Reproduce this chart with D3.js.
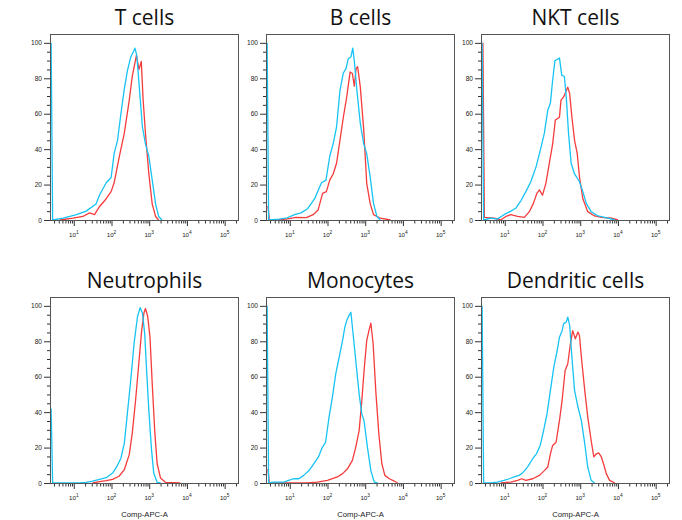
<!DOCTYPE html>
<html><head><meta charset="utf-8">
<script src="https://cdn.jsdelivr.net/npm/d3@7"></script>
<style>body{margin:0;background:#fff} svg{display:block}</style>
</head><body><svg id="c" width="682" height="520"></svg>
<script>
// Titles and axis labels
const titles = ["T cells", "B cells", "NKT cells", "Neutrophils", "Monocytes", "Dendritic cells"];
const xAxisLabel = "Comp-APC-A";
const yTickValues = [0, 20, 40, 60, 80, 100];
const xDecades = [1, 2, 3, 4, 5];

// Series: X = log10(Comp-APC-A intensity), Y = % of max
const tCellsBlueX = [0.40,0.44,0.72,1.07,1.33,1.59,1.68,1.86,1.99,2.07,2.16,2.25,2.34,2.42,2.51,2.58,2.62,2.67,2.73,2.82,2.90,2.99,3.08,3.17,3.25,3.34];
const tCellsBlueY = [100,0,1,3,5,9,14,21,24,37.5,45,60,74,84,92,95,97,93,77,52.5,43,36,22.5,9,2,0];
const tCellsRedX = [0.63,0.98,1.24,1.42,1.55,1.68,1.86,1.99,2.07,2.21,2.34,2.47,2.55,2.66,2.73,2.79,2.84,2.90,2.99,3.08,3.17,3.25];
const tCellsRedY = [0,1,2,4,3,7.5,12,16,21,36,49,67.5,81,93,85,89.5,67.5,49,26,9,2,0];

const bCellsBlueX = [0.40,0.44,0.72,0.90,1.13,1.30,1.48,1.66,1.84,1.96,2.06,2.15,2.24,2.33,2.42,2.49,2.55,2.62,2.67,2.71,2.78,2.87,2.96,3.04,3.13,3.22,3.31,3.40];
const bCellsBlueY = [100,0,0.5,1,3,4,6.5,12,21,22.5,36,43,52.5,73,83,85.5,91,92,97,90,73,54.5,43,37.5,24.5,9.4,2,0];
const bCellsRedX = [0.42,0.46,0.63,0.90,1.17,1.44,1.62,1.75,1.87,1.97,2.06,2.15,2.24,2.33,2.42,2.51,2.60,2.66,2.71,2.76,2.80,2.87,2.96,3.04,3.13,3.22,3.40,3.67];
const bCellsRedY = [8,0,0,0.5,1.5,1.3,3,5.6,15,16,22.5,26,32,45,58,69.5,83.6,82.7,75.6,85.5,86.5,75,51,20.7,9.4,3,1,0];

const nktBlueX = [0.40,0.44,0.63,0.80,0.98,1.16,1.29,1.43,1.56,1.69,1.83,1.96,2.05,2.14,2.21,2.27,2.33,2.39,2.45,2.51,2.58,2.63,2.69,2.76,2.85,2.98,3.07,3.16,3.29,3.47,3.74,3.92];
const nktBlueY = [100,0,1,0.5,3,5,6.6,11,16,21.6,30,41,49,62,66,79,90,90.6,91.5,81.8,81,69.5,49,32,26,21.6,16,9.4,4.7,2.3,1,0];
const nktRedX = [0.42,0.46,0.72,0.89,1.03,1.16,1.34,1.52,1.65,1.76,1.85,1.92,2.00,2.09,2.18,2.27,2.34,2.40,2.45,2.49,2.56,2.63,2.67,2.72,2.78,2.85,2.92,2.98,3.07,3.20,3.38,3.56,3.83,4.00];
const nktRedY = [100,1.5,1,0,2,3,2,1.5,4.7,9.4,15,17,14,20.7,32,43,56.4,57.3,58,67.7,69.5,73,75,71.4,58,45,37.6,24.4,12,4.7,2.3,1.5,1,0];

const neutroBlueX = [0.40,0.44,1.16,1.33,1.50,1.68,1.86,2.03,2.16,2.25,2.34,2.42,2.51,2.60,2.69,2.76,2.82,2.88,2.93,2.99,3.06,3.12,3.21,3.30];
const neutroBlueY = [42,0,0,0.4,1,2,3,5.6,10,14,22.5,39,58,79,94,99,96,84.4,64,41,19,5.6,0.4,0];
const neutroRedX = [1.50,1.68,1.86,2.03,2.20,2.34,2.47,2.55,2.64,2.73,2.80,2.86,2.90,2.96,3.02,3.08,3.15,3.21,3.30,3.43,3.82];
const neutroRedY = [0,0.8,1.3,2,3.8,7.5,16,28,47,69,86,96,98.5,94,82.5,56,28,11,2.8,0.4,0];

const monoBlueX = [0.40,0.44,0.57,0.84,0.97,1.10,1.24,1.37,1.51,1.64,1.76,1.86,1.95,2.04,2.13,2.22,2.31,2.40,2.46,2.51,2.57,2.62,2.68,2.75,2.84,2.91,2.97,3.06,3.15,3.24,3.33];
const monoBlueY = [100,0,0.5,0.5,1.5,2.4,2.4,4.3,7,11,14.7,20,23,37,48.5,61.7,71,80.5,88,91.7,94.5,96.4,84,69,50,39,35,20,7,0.5,0];
const monoRedX = [0.42,0.46,1.46,1.73,2.00,2.26,2.40,2.53,2.66,2.75,2.84,2.91,2.97,3.04,3.11,3.15,3.21,3.28,3.36,3.44,3.52,3.64,3.77,3.86];
const monoRedY = [8,0,0,0.5,1.5,3.4,5.3,8,12.8,20.3,29.7,46.6,63.5,80.5,87,90.2,78.6,52,28,11,4.3,2.4,1.1,0];

const dcBlueX = [0.40,0.44,0.63,0.80,0.98,1.12,1.25,1.38,1.47,1.60,1.74,1.84,1.94,2.03,2.12,2.21,2.30,2.39,2.45,2.52,2.56,2.63,2.67,2.72,2.78,2.85,2.94,3.03,3.12,3.20,3.29,3.38];
const dcBlueY = [100,0,0,0.5,1.5,2.4,3.4,4.3,5.6,9,13.7,16.5,21.2,29.7,39,52.3,65.4,74.8,82.3,86,90,90.8,93.6,89,71,52.3,42.9,35.3,22.2,9,1.5,0];
const dcRedX = [0.89,1.16,1.34,1.45,1.56,1.74,1.92,2.05,2.14,2.21,2.27,2.36,2.45,2.52,2.60,2.67,2.74,2.80,2.87,2.94,2.98,3.04,3.12,3.20,3.29,3.36,3.43,3.49,3.56,3.63,3.69,3.78,3.92];
const dcRedY = [0,0.5,1.5,2.4,1.5,2.4,4.3,7,9,16.5,21.2,23,35.3,46.6,63.5,67.3,78.6,86,81.4,85.2,83.3,69,52.3,37.2,24,14.7,16.5,17,14.7,10,5.3,1.5,0];

const panels = [
  {title: titles[0], blue: [tCellsBlueX, tCellsBlueY], red: [tCellsRedX, tCellsRedY]},
  {title: titles[1], blue: [bCellsBlueX, bCellsBlueY], red: [bCellsRedX, bCellsRedY]},
  {title: titles[2], blue: [nktBlueX, nktBlueY], red: [nktRedX, nktRedY]},
  {title: titles[3], blue: [neutroBlueX, neutroBlueY], red: [neutroRedX, neutroRedY]},
  {title: titles[4], blue: [monoBlueX, monoBlueY], red: [monoRedX, monoRedY]},
  {title: titles[5], blue: [dcBlueX, dcBlueY], red: [dcRedX, dcRedY]}
];

const svg = d3.select('#c');
const colLeft = [50, 266, 481], rowTop = [34, 297], W = 189, H = 187;
const x = d3.scaleLog().domain([10 ** 0.37, 10 ** 5.38]).range([0, W]);
const y = d3.scaleLinear().domain([0, 105]).range([H - 1, 0]);
const BLUE = '#17c3f3', RED = '#f53c3c';
const tickFont = '"Liberation Sans", Arial, sans-serif';

const minorX = [];
for (let k = 0; k <= 5; k++) for (let m = 2; m <= 9; m++) {
  const v = m * 10 ** k;
  if (v >= x.domain()[0] && v <= x.domain()[1]) minorX.push(v);
}
const minorY = d3.range(0, 101, 5).filter(v => v % 20 !== 0);

const line = d3.line().x(d => x(d[0])).y(d => y(d[1]));
const toPts = s => s[0].map((lx, i) => [10 ** lx, s[1][i]]);

panels.forEach((p, i) => {
  const row = Math.floor(i / 3), col = i % 3;
  const g = svg.append('g').attr('transform', `translate(${colLeft[col]},${rowTop[row]})`);

  // title
  g.append('text').attr('x', W / 2).attr('y', -9).attr('text-anchor', 'middle')
    .style('font-family', '"Open Sans", Lato, sans-serif').style('font-size', '21px').attr('fill', '#111')
    .text(p.title);

  // y axis
  const yMajor = g.append('g').call(d3.axisLeft(y).tickValues(yTickValues).tickSize(6).tickPadding(2));
  yMajor.select('.domain').remove();
  yMajor.selectAll('text').style('font-family', tickFont).style('font-size', '6.6px').attr('fill', '#222');
  yMajor.selectAll('line').attr('stroke', '#333');
  const yMin = g.append('g').call(d3.axisLeft(y).tickValues(minorY).tickSize(3).tickFormat(''));
  yMin.select('.domain').remove();
  yMin.selectAll('line').attr('stroke', '#333');

  // x axis
  const xMajor = g.append('g').attr('transform', `translate(0,${H})`)
    .call(d3.axisBottom(x).tickValues(xDecades.map(k => 10 ** k)).tickSize(5).tickFormat(''));
  xMajor.select('.domain').remove();
  xMajor.selectAll('line').attr('stroke', '#333');
  const xMin = g.append('g').attr('transform', `translate(0,${H})`)
    .call(d3.axisBottom(x).tickValues(minorX).tickSize(2.5).tickFormat(''));
  xMin.select('.domain').remove();
  xMin.selectAll('line').attr('stroke', '#333');
  xDecades.forEach(k => {
    const t = g.append('text').attr('x', x(10 ** k)).attr('y', H + 16)
      .attr('text-anchor', 'middle').style('font-family', tickFont).attr('fill', '#222');
    t.append('tspan').style('font-size', '6.2px').text('10');
    t.append('tspan').style('font-size', '4.8px').attr('dy', -3).text(k);
  });

  if (row === 1) {
    g.append('text').attr('x', W / 2).attr('y', H + 33).attr('text-anchor', 'middle')
      .style('font-family', tickFont).style('font-size', '7.7px').attr('fill', '#222').text(xAxisLabel);
  }

  // curves
  g.append('path').datum(toPts(p.red)).attr('d', line).attr('fill', 'none')
    .attr('stroke', RED).attr('stroke-width', 1.3).attr('stroke-linejoin', 'round');
  g.append('path').datum(toPts(p.blue)).attr('d', line).attr('fill', 'none')
    .attr('stroke', BLUE).attr('stroke-width', 1.3).attr('stroke-linejoin', 'round');

  // frame
  g.append('rect').attr('x', 0.5).attr('y', 0.5).attr('width', W - 1).attr('height', H - 1)
    .attr('fill', 'none').attr('stroke', '#555').attr('stroke-width', 1);
});
</script></body></html>
